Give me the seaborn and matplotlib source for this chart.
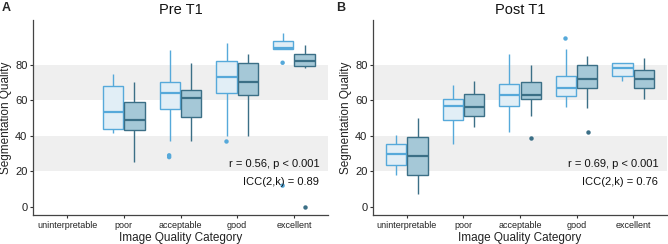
import numpy as np
import pandas as pd
import matplotlib
matplotlib.use("Agg")
import matplotlib.pyplot as plt
import seaborn as sns

categories = ["uninterpretable", "poor", "acceptable", "good", "excellent"]
raters = ["Rater 1", "Rater 2"]

# five-number summaries per category: (whisker low, Q1, median, Q3, whisker high)
pre_r1 = [None, (41.8, 44.0, 53.4, 67.8, 74.9), (37.0, 54.9, 64.0, 70.0, 88.0),
          (39.8, 64.2, 72.8, 82.0, 91.9), (88.9, 88.9, 89.4, 93.4, 97.9)]
pre_r2 = [None, (25.0, 43.1, 48.7, 59.2, 70.0), (37.0, 50.8, 61.0, 65.5, 81.0),
          (39.8, 63.0, 70.0, 81.0, 86.0), (78.0, 79.4, 82.2, 85.7, 91.0)]
post_r1 = [(18.1, 23.7, 29.5, 35.3, 40.7), (35.1, 48.7, 56.6, 60.7, 68.7),
           (42.0, 56.6, 62.9, 68.9, 85.7), (56.2, 62.6, 66.7, 73.8, 88.9),
           (71.0, 73.8, 78.0, 81.0, 81.0)]
post_r2 = [(7.1, 17.7, 28.8, 39.2, 49.9), (45.0, 51.2, 56.2, 63.5, 71.0),
           (51.0, 60.5, 62.9, 70.0, 80.0), (55.8, 66.9, 71.9, 80.0, 85.0),
           (60.7, 66.9, 71.9, 77.1, 83.8)]

pre_r1_out = [("acceptable", 29.0), ("acceptable", 28.0), ("good", 37.2),
              ("excellent", 81.0), ("excellent", 12.0)]
pre_r2_out = [("excellent", 0.0)]
post_r1_out = [("good", 95.0)]
post_r2_out = [("acceptable", 39.0), ("good", 42.0)]

titles = ["Pre T1", "Post T1"]
panel_letters = ["A", "B"]
stats_text = [["r = 0.56, p < 0.001", "ICC(2,k) = 0.89"],
              ["r = 0.69, p < 0.001", "ICC(2,k) = 0.76"]]
yticks = [0, 20, 40, 60, 80]

face_cols = {"Rater 1": "#DDEFFA", "Rater 2": "#9DCCDF"}
edge_cols = {"Rater 1": "#56A9DA", "Rater 2": "#3B6F86"}

sns.set_theme(style="white")
plt.rcParams["font.family"] = ["Liberation Sans", "DejaVu Sans"]


def to_frame(r1, r2):
    rows = []
    for rater, series in zip(raters, [r1, r2]):
        for cat, s in zip(categories, series):
            if s is None:
                continue
            for v in s:
                rows.append({"cat": cat, "rater": rater, "val": v})
    return pd.DataFrame(rows)


def out_frame(o1, o2):
    rows = []
    for rater, lst in zip(raters, [o1, o2]):
        for cat, v in lst:
            rows.append({"cat": cat, "rater": rater, "val": v})
    return pd.DataFrame(rows)


fig = plt.figure(figsize=(6.68, 2.44), dpi=100)
ax_a = fig.add_axes([33 / 668, 29 / 244, 295 / 668, 195 / 244])
ax_b = fig.add_axes([373 / 668, 29 / 244, 294 / 668, 195 / 244])

panels = [(ax_a, pre_r1, pre_r2, pre_r1_out, pre_r2_out),
          (ax_b, post_r1, post_r2, post_r1_out, post_r2_out)]

for i, (ax, r1, r2, o1, o2) in enumerate(panels):
    ax.axhspan(20, 40, color="#EFEFEF", zorder=0, lw=0)
    ax.axhspan(60, 80, color="#EFEFEF", zorder=0, lw=0)
    df = to_frame(r1, r2)
    for rater in raters:
        sub = df[df["rater"] == rater]
        sns.boxplot(data=sub, x="cat", y="val", hue="rater", order=categories,
                    hue_order=raters, palette=face_cols, whis=(0, 100),
                    width=0.75, gap=0.05, dodge=True, linecolor=edge_cols[rater],
                    linewidth=1.0, showcaps=False, fliersize=0,
                    medianprops={"linewidth": 1.6}, legend=False, ax=ax,
                    zorder=2)
    od = out_frame(o1, o2)
    for rater in raters:
        sub = od[od["rater"] == rater]
        if len(sub) == 0:
            continue
        sns.stripplot(data=sub, x="cat", y="val", hue="rater", order=categories,
                      hue_order=raters, palette={r: edge_cols[r] for r in raters},
                      dodge=True, jitter=False, size=3.2, linewidth=0,
                      legend=False, ax=ax, zorder=3)
    ax.set_xlim(-0.6, 4.6)
    ax.set_ylim(-4.5, 105)
    ax.set_yticks(yticks)
    ax.set_yticklabels([str(t) for t in yticks], fontsize=8, color="#222222")
    ax.tick_params(axis="x", labelsize=6.5, labelcolor="#222222", length=2.5,
                   width=0.8, color="#333333", pad=2)
    ax.tick_params(axis="y", length=2.5, width=0.8, color="#333333", pad=1.5)
    ax.tick_params(bottom=True, left=True)
    ax.set_xlabel("Image Quality Category", fontsize=8.5, color="#222222", labelpad=1)
    ax.set_ylabel("Segmentation Quality", fontsize=8.5, color="#222222", labelpad=2)
    ax.set_title(titles[i], fontsize=10.5, pad=4, color="#111111")
    sns.despine(ax=ax)
    for sp in ["left", "bottom"]:
        ax.spines[sp].set_color("#444444")
        ax.spines[sp].set_linewidth(0.9)
    ax.text(0.97, 0.26, stats_text[i][0], transform=ax.transAxes, ha="right",
            va="center", fontsize=8, color="#111111", zorder=5)
    ax.text(0.97, 0.17, stats_text[i][1], transform=ax.transAxes, ha="right",
            va="center", fontsize=8, color="#111111", zorder=5)

fig.text(2 / 668, 1 - 8 / 244, "A", fontsize=9, fontweight="bold", va="center")
fig.text(336 / 668, 1 - 8 / 244, "B", fontsize=9, fontweight="bold", va="center")

fig.savefig("out.png", dpi=100)
